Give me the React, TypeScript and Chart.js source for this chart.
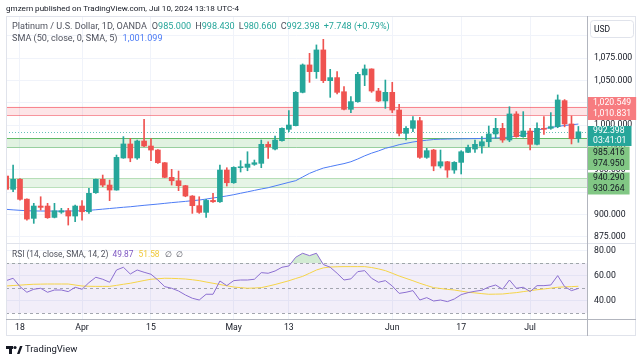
import React, { useEffect, useRef } from 'react';
import { Chart, registerables } from 'chart.js';

Chart.register(...registerables);

// ---------- data ----------
const dates = [
  '2024-03-14', '2024-03-15', '2024-03-18', '2024-03-19', '2024-03-20', '2024-03-21', '2024-03-22', '2024-03-25', '2024-03-26', '2024-03-27', '2024-03-28',
  '2024-04-01', '2024-04-02', '2024-04-03', '2024-04-04', '2024-04-05', '2024-04-08', '2024-04-09', '2024-04-10', '2024-04-11', '2024-04-12',
  '2024-04-15', '2024-04-16', '2024-04-17', '2024-04-18', '2024-04-19', '2024-04-22', '2024-04-23', '2024-04-24', '2024-04-25', '2024-04-26',
  '2024-04-29', '2024-04-30', '2024-05-01', '2024-05-02', '2024-05-03', '2024-05-06', '2024-05-07', '2024-05-08', '2024-05-09', '2024-05-10',
  '2024-05-13', '2024-05-14', '2024-05-15', '2024-05-16', '2024-05-17', '2024-05-20', '2024-05-21', '2024-05-22', '2024-05-23', '2024-05-24',
  '2024-05-27', '2024-05-28', '2024-05-29', '2024-05-30', '2024-05-31', '2024-06-03', '2024-06-04', '2024-06-05', '2024-06-06', '2024-06-07',
  '2024-06-10', '2024-06-11', '2024-06-12', '2024-06-13', '2024-06-14', '2024-06-17', '2024-06-18', '2024-06-19', '2024-06-20', '2024-06-21',
  '2024-06-24', '2024-06-25', '2024-06-26', '2024-06-27', '2024-06-28', '2024-07-01', '2024-07-02', '2024-07-03', '2024-07-04', '2024-07-05',
  '2024-07-08', '2024-07-09', '2024-07-10',
];

const opens = [
  942.9, 928.0, 939.2, 917.0, 895.5, 909.3, 909.3, 896.6, 902.5, 904.0,
  898.1, 909.3, 902.9, 924.2, 939.2, 932.8, 927.2, 963.1, 978.8, 963.1,
  982.1, 976.5, 972.0, 957.8, 941.4, 937.6, 932.1, 920.5, 909.7, 902.2,
  915.6, 914.1, 949.6, 935.4, 952.2, 952.6, 956.0, 957.1, 978.4, 973.1,
  982.5, 995.2, 999.3, 1036.6, 1067.3, 1059.8, 1084.1, 1049.7, 1053.1, 1037.3,
  1017.6, 1026.2, 1056.1, 1062.8, 1038.1, 1026.9, 1036.6, 1016.8, 990.7, 996.3,
  1004.9, 963.8, 972.0, 954.1, 958.9, 949.6, 958.2, 969.4, 973.1, 976.5,
  981.3, 990.0, 996.3, 983.2, 1012.4, 987.0, 993.3, 978.4, 996.3, 996.3,
  998.2, 1027.3, 1001.2, 985.0,
];
const highs = [
  945.5, 955.2, 940.0, 917.5, 912.3, 919.7, 912.3, 912.3, 906.7, 906.7,
  910.4, 915.3, 929.1, 939.5, 944.0, 938.4, 966.4, 987.0, 985.1, 983.2,
  1006.4, 984.7, 972.5, 958.0, 950.4, 948.5, 932.5, 921.0, 919.7, 916.8,
  923.5, 955.2, 952.2, 953.3, 960.1, 970.1, 960.8, 983.2, 981.3, 987.7,
  997.0, 1016.1, 1037.5, 1068.4, 1080.3, 1089.7, 1096.0, 1062.4, 1059.8, 1043.0,
  1031.8, 1059.0, 1067.3, 1063.0, 1041.1, 1050.4, 1047.8, 1023.2, 998.2, 1009.4,
  1008.6, 973.9, 972.8, 972.0, 959.3, 959.0, 971.3, 977.6, 983.2, 987.0,
  998.9, 1007.5, 1001.9, 1020.5, 1015.0, 1015.0, 996.3, 1002.6, 1009.4, 1013.9,
  1033.7, 1028.5, 1010.1, 998.43,
];
const lows = [
  926.5, 925.3, 916.0, 893.6, 889.9, 904.8, 895.5, 896.0, 901.1, 888.0,
  891.7, 893.6, 901.1, 923.5, 930.9, 915.3, 927.0, 962.7, 958.9, 961.6,
  975.7, 960.1, 957.1, 941.0, 932.8, 926.5, 919.7, 901.1, 901.1, 896.6,
  913.4, 913.4, 931.7, 934.7, 947.4, 948.8, 954.9, 952.2, 962.7, 972.0,
  982.0, 992.6, 999.0, 1036.0, 1047.8, 1052.3, 1047.5, 1031.0, 1034.8, 1017.0,
  1013.9, 1025.5, 1044.1, 1036.6, 1026.2, 1018.7, 1013.9, 987.7, 983.2, 992.6,
  962.7, 962.7, 948.8, 951.9, 941.4, 945.9, 945.2, 969.0, 969.4, 968.6,
  975.7, 985.1, 980.6, 981.3, 986.3, 986.3, 972.0, 977.6, 989.6, 995.2,
  997.0, 998.0, 978.8, 980.66,
];
const closes = [
  928.0, 939.2, 916.8, 894.7, 909.3, 907.8, 896.2, 904.0, 904.0, 898.1,
  909.3, 902.9, 923.5, 939.2, 932.8, 927.2, 963.8, 978.8, 963.1, 982.1,
  976.5, 972.0, 957.8, 941.4, 937.6, 932.1, 920.5, 909.7, 902.2, 915.6,
  914.1, 949.6, 935.4, 952.6, 953.3, 956.3, 957.8, 978.4, 975.7, 983.2,
  996.3, 1000.0, 1036.6, 1067.3, 1059.8, 1084.1, 1049.7, 1053.1, 1036.6, 1017.6,
  1026.2, 1056.8, 1062.8, 1038.1, 1026.9, 1036.6, 1016.8, 990.7, 996.3, 1004.9,
  963.8, 971.3, 954.1, 958.9, 949.6, 958.2, 970.1, 975.0, 978.4, 981.3,
  990.0, 996.3, 983.2, 1012.4, 987.0, 993.3, 978.4, 996.3, 995.2, 998.2,
  1028.1, 1001.2, 984.65, 992.398,
];
const sma50 = [
  905.6, 905.0, 904.5, 904.0, 903.8, 903.7, 903.7, 903.6, 903.6, 903.7,
  903.8, 904.0, 904.5, 905.1, 905.8, 906.5, 907.2, 907.9, 908.5, 909.3,
  910.1, 910.8, 911.5, 912.3, 913.1, 913.8, 914.5, 915.3, 916.0, 917.1,
  918.3, 919.4, 920.6, 922.0, 923.6, 925.2, 926.8, 928.4, 929.8, 931.8,
  933.8, 935.8, 937.7, 941.8, 945.9, 949.0, 951.8, 953.5, 955.2, 956.8,
  958.9, 962.0, 965.5, 968.5, 971.0, 973.9, 975.8, 978.0, 979.5, 981.0,
  982.1, 983.0, 983.8, 984.1, 984.3, 984.5, 984.6, 984.7, 984.8, 985.0,
  985.2, 985.5, 985.8, 986.5, 987.5, 989.0, 991.5, 994.2, 996.0, 997.2,
  998.4, 999.5, 1000.3, 1001.1,
];
const rsi14 = [
  56.1, 58.0, 51.3, 46.8, 49.2, 50.0, 46.8, 48.6, 48.6, 47.3,
  50.8, 49.2, 54.5, 58.8, 57.2, 54.8, 64.6, 66.8, 61.4, 64.6,
  62.8, 61.2, 56.6, 51.3, 50.0, 47.8, 44.6, 42.0, 40.6, 45.2,
  45.2, 55.8, 52.1, 56.1, 56.6, 56.6, 57.2, 62.5, 62.0, 63.8,
  66.8, 67.8, 74.8, 78.0, 76.1, 78.0, 69.0, 66.8, 62.0, 56.6,
  57.5, 63.3, 64.1, 58.0, 54.8, 56.1, 51.8, 45.9, 46.8, 48.1,
  40.6, 42.5, 39.8, 40.6, 39.3, 41.4, 44.9, 46.5, 47.6, 48.4,
  51.0, 52.6, 49.2, 56.6, 50.0, 50.8, 47.3, 52.1, 52.1, 52.6,
  60.1, 51.3, 48.1, 49.87,
];
const rsiSma = [
  51.8, 52.2, 52.5, 52.9, 53.2, 53.3, 53.4, 53.4, 53.4, 53.4,
  52.6, 51.8, 51.6, 51.5, 51.5, 51.5, 52.3, 53.2, 54.0, 55.1,
  56.2, 57.2, 57.6, 58.0, 57.9, 57.7, 57.4, 56.8, 56.1, 55.0,
  54.0, 53.0, 52.0, 51.0, 50.5, 50.0, 50.2, 50.5, 51.7, 53.0,
  54.5, 56.0, 57.8, 59.5, 62.0, 64.6, 66.3, 67.0, 67.2, 67.3,
  67.3, 67.3, 67.3, 66.6, 65.5, 64.1, 62.0, 59.8, 57.9, 56.0,
  54.0, 52.2, 50.5, 49.8, 49.1, 48.6, 47.7, 46.8, 46.3, 45.7,
  45.2, 45.3, 45.4, 46.0, 46.5, 47.3, 48.1, 48.8, 49.4, 50.1,
  50.8, 51.1, 51.3, 51.58,
];

const tickDates = ['2024-03-18', '2024-04-01', '2024-04-15', '2024-05-01', '2024-05-13', '2024-06-03', '2024-06-17', '2024-07-01'];
const tickLabels = ['18', 'Apr', '15', 'May', '13', 'Jun', '17', 'Jul'];
const priceTicks = [875, 900, 925, 950, 975, 1000, 1025, 1050, 1075, 1100];
const rsiTicks = [40, 60, 80];
const rsiLevels = [70, 50, 30];

const resistanceZone = [1010.831, 1020.549];
const supportZoneUpper = [974.95, 985.416];
const supportZoneLower = [930.264, 940.29];
const lastPrice = 992.398;
const countdown = '03:41:01';

const headerText = 'gmzern published on TradingView.com, Jul 10, 2024 13:18 UTC-4';
const symbolText = 'Platinum / U.S. Dollar, 1D, OANDA';
const ohlcLetters = ['O', 'H', 'L', 'C'];
const ohlcValues = ['985.000', '998.430', '980.660', '992.398'];
const changeText = '+7.748 (+0.79%)';
const smaText = 'SMA (50, close, 0, SMA, 5)';
const smaValueText = '1,001.099';
const rsiText = 'RSI (14, close, SMA, 14, 2)';
const rsiValueText = '49.87';
const rsiSmaValueText = '51.58';

// ---------- styles ----------
const FONT = 'Roboto, "Noto Sans", sans-serif';
const UP = '#26a69a';
const DOWN = '#ef5350';
const TEXT = '#131722';
const GRAY = '#50535e';
const GRID = '#f0f3fa';

const fmtPrice = (v: number) =>
  v.toLocaleString('en-US', { minimumFractionDigits: 3, maximumFractionDigits: 3 });

function put(ctx: CanvasRenderingContext2D, s: string, x: number, y: number, color: string, size: number, align: CanvasTextAlign = 'left') {
  ctx.font = `${size}px ${FONT}`;
  ctx.fillStyle = color;
  ctx.textAlign = align;
  ctx.textBaseline = 'middle';
  ctx.fillText(s, x, y);
  return ctx.measureText(s).width;
}

function hline(ctx: CanvasRenderingContext2D, x1: number, x2: number, y: number, color: string) {
  ctx.strokeStyle = color;
  ctx.lineWidth = 1;
  ctx.beginPath();
  ctx.moveTo(x1, Math.round(y) + 0.5);
  ctx.lineTo(x2, Math.round(y) + 0.5);
  ctx.stroke();
}

const overlay = {
  id: 'overlay',
  beforeDatasetsDraw(chart: any) {
    const { ctx, chartArea: ca } = chart;
    const y = chart.scales.y;
    const r = chart.scales.yr;
    ctx.save();
    ctx.beginPath();
    ctx.rect(ca.left, ca.top, ca.right - ca.left, ca.bottom - ca.top);
    ctx.clip();

    // RSI band
    const r70 = r.getPixelForValue(rsiLevels[0]);
    const r30 = r.getPixelForValue(rsiLevels[2]);
    ctx.fillStyle = 'rgba(126,87,194,0.1)';
    ctx.fillRect(ca.left, r70, ca.right - ca.left, r30 - r70);
    ctx.setLineDash([3, 3]);
    for (const lv of rsiLevels) hline(ctx, ca.left, ca.right, r.getPixelForValue(lv), '#a3a6af');
    ctx.setLineDash([]);

    const zone = (z: number[], fill: string, top: string, bot: string) => {
      const yt = y.getPixelForValue(z[1]);
      const yb = y.getPixelForValue(z[0]);
      ctx.fillStyle = fill;
      ctx.fillRect(ca.left, yt, ca.right - ca.left, yb - yt);
      hline(ctx, ca.left, ca.right, yt, top);
      hline(ctx, ca.left, ca.right, yb, bot);
    };
    zone(resistanceZone, 'rgba(242,54,69,0.13)', 'rgba(242,54,69,0.55)', 'rgba(242,54,69,0.5)');
    zone(supportZoneUpper, 'rgba(76,175,80,0.17)', 'rgba(76,175,80,0.85)', 'rgba(76,175,80,0.5)');
    zone(supportZoneLower, 'rgba(76,175,80,0.14)', 'rgba(76,175,80,0.35)', 'rgba(76,175,80,0.35)');

    ctx.setLineDash([1, 2]);
    hline(ctx, ca.left, ca.right, y.getPixelForValue(lastPrice), 'rgba(38,166,154,0.7)');
    ctx.setLineDash([]);
    ctx.restore();
  },
  afterDraw(chart: any) {
    const { ctx, chartArea: ca } = chart;
    const r = chart.scales.yr;
    const x = chart.scales.x;
    ctx.save();
    const frameL = 6, frameR = 636, frameT = 16, frameB = 336;

    // frame & separators
    ctx.strokeStyle = '#e0e3eb';
    ctx.lineWidth = 1;
    ctx.strokeRect(frameL + 0.5, frameT + 0.5, frameR - frameL - 1, frameB - frameT - 1);
    hline(ctx, frameL, frameR, r.top, '#e0e3eb');
    hline(ctx, frameL, frameR, x.top, '#b2b5be');
    ctx.strokeStyle = '#b2b5be';
    ctx.beginPath();
    ctx.moveTo(ca.right + 0.5, frameT);
    ctx.lineTo(ca.right + 0.5, frameB);
    ctx.stroke();

    // header
    put(ctx, headerText, 6, 9, TEXT, 8.1);

    // legend line 1
    const LS = 9.1;
    let cx = 12;
    cx += put(ctx, symbolText, cx, 27, GRAY, LS) + 5;
    for (let i = 0; i < ohlcLetters.length; i++) {
      cx += put(ctx, ohlcLetters[i], cx, 27, GRAY, LS);
      cx += put(ctx, ohlcValues[i], cx, 27, UP, LS) + 4;
    }
    put(ctx, changeText, cx, 27, UP, LS);

    // legend line 2
    cx = 12;
    cx += put(ctx, smaText, cx, 39, GRAY, LS) + 5;
    put(ctx, smaValueText, cx, 39, '#4d7cf5', LS);

    // RSI legend
    const ry = r.top + 12;
    cx = 12;
    cx += put(ctx, rsiText, cx, ry, GRAY, 8.4) + 4;
    cx += put(ctx, rsiValueText, cx, ry, '#7e57c2', 8.4) + 5;
    cx += put(ctx, rsiSmaValueText, cx, ry, '#f0c83a', 8.4) + 5;
    cx += put(ctx, '∅', cx, ry, GRAY, 8.4) + 4;
    put(ctx, '∅', cx, ry, GRAY, 8.4);

    // USD box
    ctx.strokeStyle = '#e0e3eb';
    ctx.beginPath();
    ctx.roundRect(590.5, 20.5, 43, 17, 3);
    ctx.fillStyle = '#fff';
    ctx.fill();
    ctx.stroke();
    put(ctx, 'USD', 594, 29.5, TEXT, 8.5);

    // price axis labels
    const lbl = (t: number, b: number, lines: string[], bg: string, fg: string) => {
      ctx.font = `8.7px ${FONT}`;
      const w = Math.max(...lines.map((s) => ctx.measureText(s).width)) + 10;
      ctx.fillStyle = bg;
      ctx.fillRect(ca.right + 1, t, w, b - t);
      const step = (b - t) / lines.length;
      lines.forEach((s, i) => put(ctx, s, ca.right + 6, t + step * (i + 0.5), fg, 8.7));
    };
    lbl(97, 120, [fmtPrice(resistanceZone[1]), fmtPrice(resistanceZone[0])], '#f77c80', '#ffffff');
    lbl(126, 146, [fmtPrice(lastPrice), countdown], UP, '#ffffff');
    lbl(146.5, 170, [fmtPrice(supportZoneUpper[1]), fmtPrice(supportZoneUpper[0])], '#81c784', TEXT);
    lbl(172.5, 194.5, [fmtPrice(supportZoneLower[1]), fmtPrice(supportZoneLower[0])], '#81c784', TEXT);

    // TradingView logo
    ctx.fillStyle = TEXT;
    ctx.fillRect(6, 346, 7, 3);
    ctx.fillRect(9, 346, 3, 8);
    ctx.beginPath();
    ctx.arc(15, 347.5, 1.6, 0, Math.PI * 2);
    ctx.fill();
    ctx.beginPath();
    ctx.moveTo(17, 354);
    ctx.lineTo(20, 346);
    ctx.lineTo(22.5, 346);
    ctx.lineTo(19.5, 354);
    ctx.closePath();
    ctx.fill();
    put(ctx, 'TradingView', 25, 350, TEXT, 9.5);
    ctx.restore();
  },
};

export default function App() {
  const ref = useRef<HTMLCanvasElement>(null);
  useEffect(() => {
    const idx = dates.map((_, i) => i);
    const tickIdx = tickDates.map((d) => dates.indexOf(d));
    const chart = new Chart(ref.current as HTMLCanvasElement, {
      type: 'bar',
      data: {
        datasets: [
          {
            type: 'bar',
            data: idx.map((i) => ({ x: i, y: [opens[i], closes[i]] })) as any,
            backgroundColor: idx.map((i) => (closes[i] >= opens[i] ? UP : DOWN)),
            barThickness: 5,
            minBarLength: 1,
            grouped: false,
            borderWidth: 0,
            yAxisID: 'y',
            order: 0,
          } as any,
          {
            type: 'bar',
            data: idx.map((i) => ({ x: i, y: [lows[i], highs[i]] })) as any,
            backgroundColor: idx.map((i) => (closes[i] >= opens[i] ? UP : DOWN)),
            barThickness: 1,
            grouped: false,
            borderWidth: 0,
            yAxisID: 'y',
            order: 1,
          } as any,
          {
            type: 'line',
            data: idx.map((i) => ({ x: i, y: sma50[i] })),
            borderColor: '#4d7cf5',
            borderWidth: 1,
            pointRadius: 0,
            yAxisID: 'y',
            order: 2,
          } as any,
          {
            type: 'line',
            data: idx.map((i) => ({ x: i, y: rsiSma[i] })),
            borderColor: '#f5d447',
            borderWidth: 1,
            pointRadius: 0,
            yAxisID: 'yr',
            order: 4,
          } as any,
          {
            type: 'line',
            data: idx.map((i) => ({ x: i, y: rsi14[i] })),
            borderColor: '#8c6fd1',
            borderWidth: 1,
            pointRadius: 0,
            yAxisID: 'yr',
            fill: { target: { value: 70 }, above: 'rgba(76,175,80,0.25)', below: 'rgba(0,0,0,0)' },
            order: 3,
          } as any,
        ],
      },
      options: {
        responsive: false,
        animation: false,
        events: [],
        layout: { padding: { left: 6, top: 16, right: 7, bottom: 25 } },
        plugins: { legend: { display: false }, tooltip: { enabled: false } },
        scales: {
          x: {
            type: 'linear',
            min: -0.03,
            max: 84.25,
            offset: false,
            afterBuildTicks: (s: any) => {
              s.ticks = tickIdx.map((v) => ({ value: v }));
            },
            afterFit: (s: any) => {
              s.height = 17;
            },
            ticks: {
              autoSkip: false,
              maxRotation: 0,
              padding: 4,
              color: TEXT,
              font: { size: 8.7, family: FONT },
              callback: (v: any) => {
                const k = tickIdx.indexOf(v);
                return k >= 0 ? tickLabels[k] : '';
              },
            },
            grid: { color: GRID, drawTicks: false, offset: false },
            border: { display: false },
          },
          y: {
            type: 'linear',
            position: 'right',
            stack: 'panes',
            stackWeight: 227,
            min: 867.9,
            max: 1122.1,
            afterBuildTicks: (s: any) => {
              s.ticks = priceTicks.map((v) => ({ value: v }));
            },
            afterFit: (s: any) => {
              s.width = 49;
            },
            ticks: {
              autoSkip: false,
              padding: 7,
              color: TEXT,
              font: { size: 8.7, family: FONT },
              callback: (v: any) => (v >= 1100 ? '' : fmtPrice(v)),
            },
            grid: { color: GRID, drawTicks: false },
            border: { display: false },
          },
          yr: {
            type: 'linear',
            position: 'right',
            stack: 'panes',
            stackWeight: 76,
            min: 25.4,
            max: 86.2,
            afterBuildTicks: (s: any) => {
              s.ticks = rsiTicks.map((v) => ({ value: v }));
            },
            afterFit: (s: any) => {
              s.width = 49;
            },
            ticks: {
              autoSkip: false,
              padding: 7,
              color: TEXT,
              font: { size: 8.7, family: FONT },
              callback: (v: any) => Number(v).toFixed(2),
            },
            grid: { color: GRID, drawTicks: false },
            border: { display: false },
          },
        },
      } as any,
      plugins: [overlay],
    });
    return () => chart.destroy();
  }, []);

  return (
    <div style={{ position: 'fixed', left: 0, top: 0, width: 643, height: 361, background: '#fff' }}>
      <canvas ref={ref} width={643} height={361} style={{ display: 'block', width: 643, height: 361 }} />
    </div>
  );
}
